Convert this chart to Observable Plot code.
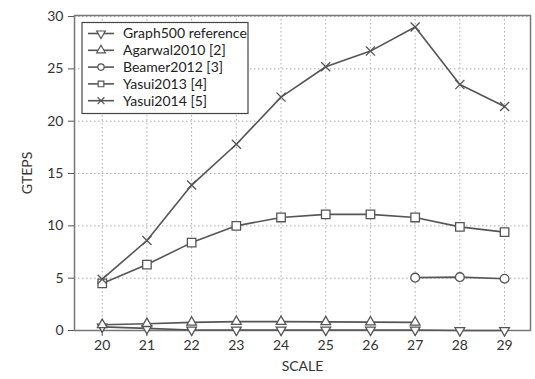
<!DOCTYPE html>
<html><head><meta charset="utf-8">
<script src="https://cdn.jsdelivr.net/npm/d3@7"></script>
<script src="https://cdn.jsdelivr.net/npm/@observablehq/plot@0.6"></script>
<style>
body{margin:0;background:#fff;}
#chart svg{display:block;}
</style>
</head><body><div id="chart"></div>
<script>
const scales = [20, 21, 22, 23, 24, 25, 26, 27, 28, 29];
const seriesNames = ["Graph500 reference", "Agarwal2010 [2]", "Beamer2012 [3]", "Yasui2013 [4]", "Yasui2014 [5]"];
const graph500 = [0.35, 0.2, 0.05, 0.05, 0.05, 0.05, 0.05, 0.05, 0.0, 0.0];
const agarwal2010 = [0.55, 0.65, 0.78, 0.85, 0.85, 0.82, 0.8, 0.78, null, null];
const beamer2012 = [null, null, null, null, null, null, null, 5.05, 5.1, 4.95];
const yasui2013 = [4.5, 6.3, 8.4, 10.0, 10.8, 11.1, 11.1, 10.8, 9.9, 9.4];
const yasui2014 = [4.9, 8.6, 13.9, 17.8, 22.3, 25.2, 26.7, 29.0, 23.5, 21.4];
const xTicks = [20, 21, 22, 23, 24, 25, 26, 27, 28, 29];
const yTicks = [0, 5, 10, 15, 20, 25, 30];

const triangleDown = {
  draw(context, size) {
    const y = -Math.sqrt(size / (Math.sqrt(3) * 3));
    context.moveTo(0, -y * 2);
    context.lineTo(-Math.sqrt(3) * y, y);
    context.lineTo(Math.sqrt(3) * y, y);
    context.closePath();
  }
};
const symbols = [triangleDown, d3.symbolTriangle, d3.symbolCircle, d3.symbolSquare, d3.symbolTimes];
const sizes = [3.6, 3.6, 4.4, 4.8, 4.2];
const allValues = [graph500, agarwal2010, beamer2012, yasui2013, yasui2014];

const rows = [];
allValues.forEach((vals, si) => {
  vals.forEach((v, i) => {
    if (v !== null) rows.push({series: seriesNames[si], si, scale: scales[i], value: v});
  });
});

const C = "#555";
const font = "Lato, 'DejaVu Sans', sans-serif";

const chart = Plot.plot({
  width: 535,
  height: 379,
  marginLeft: 74,
  marginRight: 5,
  marginTop: 15,
  marginBottom: 49,
  style: {fontFamily: font, fontSize: "14px", color: "#333", background: "#fff"},
  x: {domain: [19.38, 29.58]},
  y: {domain: [0, 30.1]},
  marks: [
    Plot.gridX(xTicks, {stroke: "#aaa", strokeOpacity: 1, strokeDasharray: "1.5,2.5"}),
    Plot.gridY(yTicks, {stroke: "#aaa", strokeOpacity: 1, strokeDasharray: "1.5,2.5"}),
    Plot.axisX({ticks: xTicks, tickSize: 6, tickPadding: 4, label: "SCALE", labelAnchor: "center", labelArrow: "none", labelOffset: 40, fontSize: 14, stroke: C, fill: "#333"}),
    Plot.axisY({ticks: yTicks, tickSize: 6, tickPadding: 5, label: "GTEPS", labelAnchor: "center", labelArrow: "none", labelOffset: 52, fontSize: 14, stroke: C, fill: "#333"}),
    Plot.frame({stroke: "#777", strokeWidth: 1.5}),
    ...seriesNames.map((name, si) =>
      Plot.line(rows.filter(d => d.si === si), {x: "scale", y: "value", stroke: C, strokeWidth: 1.6})
    ),
    ...seriesNames.map((name, si) =>
      Plot.dot(rows.filter(d => d.si === si), {x: "scale", y: "value", symbol: () => symbols[si], r: sizes[si], stroke: C, fill: si === 4 ? "none" : "white", strokeWidth: 1.3})
    )
  ]
});

// Legend
const svg = d3.select(chart);
const lg = svg.append("g").attr("font-family", font).attr("font-size", 14).attr("fill", "#222").attr("text-anchor", "start");
lg.append("rect").attr("x", 82).attr("y", 22.5).attr("width", 166).attr("height", 91)
  .attr("fill", "white").attr("stroke", "#444").attr("stroke-width", 1.2);
seriesNames.forEach((name, i) => {
  const yy = 33.5 + i * 16.8;
  lg.append("line").attr("x1", 88).attr("x2", 114).attr("y1", yy).attr("y2", yy)
    .attr("stroke", C).attr("stroke-width", 1.6);
  const r = 3.2;
  lg.append("path").attr("transform", `translate(101,${yy})`)
    .attr("d", d3.symbol(symbols[i], Math.PI * r * r)())
    .attr("fill", i === 4 ? "none" : "white").attr("stroke", C).attr("stroke-width", 1.2);
  lg.append("text").attr("x", 123).attr("y", yy).attr("dy", "0.35em").attr("text-anchor", "start").text(name);
});

document.getElementById("chart").appendChild(chart);
</script>
</body></html>
